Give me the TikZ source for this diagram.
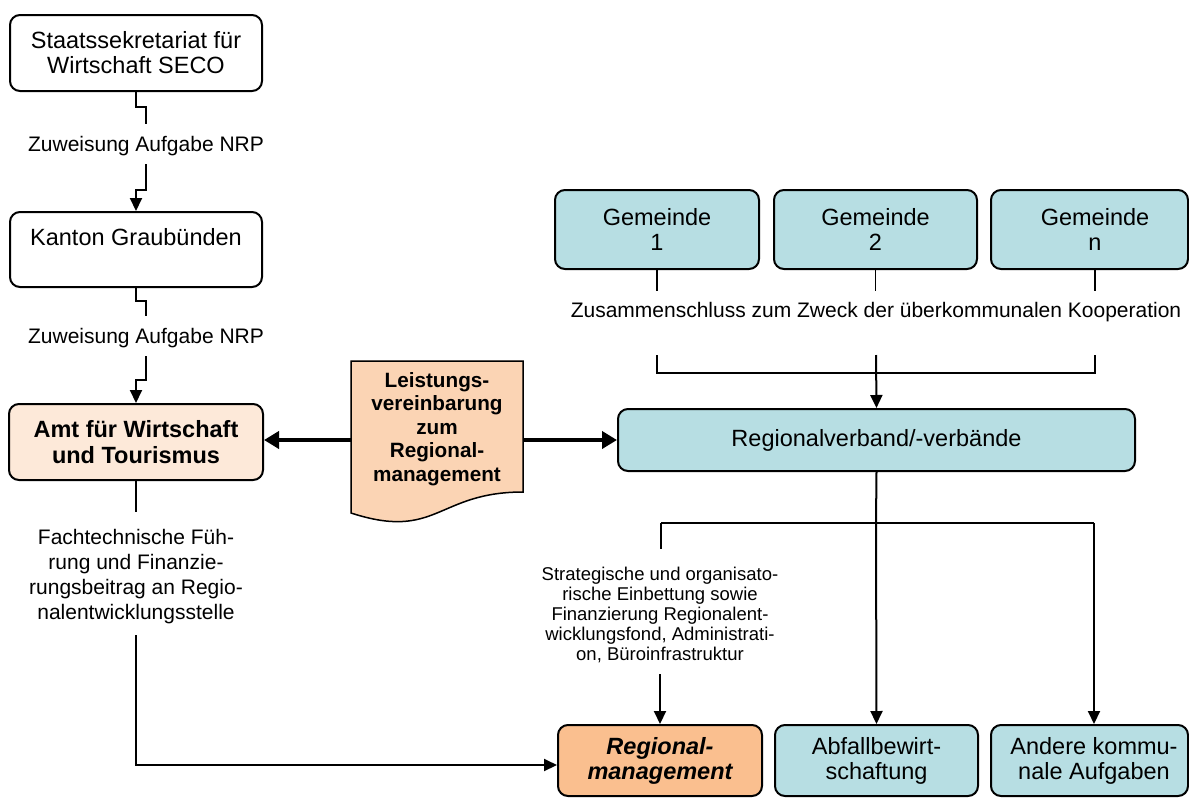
\documentclass[tikz,border=0pt]{standalone}
\usepackage{fontspec}
\setmainfont{Liberation Sans}
\usetikzlibrary{arrows.meta}
\definecolor{gemblue}{HTML}{B7DEE3}
\definecolor{amtrose}{HTML}{FDE9D9}
\definecolor{docpeach}{HTML}{FBD4B4}
\definecolor{rmorange}{HTML}{FABF8F}
\tikzset{
  box/.style={draw, line width=1pt, rounded corners=5pt, align=center, inner sep=2pt,
    font=\fontsize{11.75}{12.5}\selectfont},
  gem/.style={box, fill=gemblue, minimum height=39.5pt},
  task/.style={box, fill=gemblue, minimum height=35.5pt},
  lbl/.style={align=center, inner sep=0pt, font=\fontsize{10.5}{12.5}\selectfont},
  small/.style={lbl, font=\fontsize{9.25}{10}\selectfont},
  line/.style={line width=1pt},
  thinline/.style={line width=0.6pt},
  arr/.style={-{Triangle[length=6.5pt,width=6pt]}, line width=1pt},
  fat/.style={-{Triangle[length=7.5pt,width=8.5pt]}, line width=2pt}
}
\begin{document}
\begin{tikzpicture}[x=0.5pt, y=-0.5pt]
  \useasboundingbox (0,0) rectangle (1189,798);

  \node[box, minimum width=126pt, minimum height=38pt] (seco) at (136,53) {Staatssekretariat für\\Wirtschaft SECO};
  \node[box, minimum width=126pt, minimum height=37.5pt] (kanton) at (136,249.5) {Kanton Graubünden\\~};
  \node[box, fill=amtrose, minimum width=127pt, minimum height=38pt,
    font=\fontsize{11.75}{13.3}\selectfont\bfseries] (amt) at (136,442) {Amt für Wirtschaft\\und Tourismus};
  \node[lbl] (zw1) at (146,146) {Zuweisung Aufgabe NRP};
  \node[lbl] (zw2) at (146,338) {Zuweisung Aufgabe NRP};
  \node[lbl] (ft) at (136,577) {Fachtechnische Füh-\\rung und Finanzie-\\rungsbeitrag an Regio-\\nalentwicklungsstelle};

  \draw[docpeach, fill=docpeach] (351,361) -- (523,361) -- (523,492)
    .. controls (437,492) and (437,541) .. (351,513) -- cycle;
  \draw[line width=0.75pt] (351,361) -- (523,361) -- (523,492)
    .. controls (437,492) and (437,541) .. (351,513) -- cycle;
  \node[lbl, font=\fontsize{10.35}{11.75}\selectfont\bfseries] (lv) at (437,429)
    {Leistungs-\\vereinbarung\\zum\\Regional-\\management};
  \coordinate (lvw) at (351,440);
  \coordinate (lve) at (523,440);

  \node[gem, minimum width=102pt] (g1) at (657,229.5) {Gemeinde\\1};
  \node[gem, minimum width=101.5pt] (g2) at (875.5,229.5) {Gemeinde\\2};
  \node[gem, minimum width=98.5pt] (gn) at (1089.5,229.5) {\hspace*{5.5pt}Gemeinde\\\hspace*{5.5pt}n};
  \node[lbl] (zk) at (876,312) {Zusammenschluss zum Zweck der überkommunalen Kooperation};
  \node[box, fill=gemblue, minimum width=258.5pt, minimum height=31pt] (rv) at (876.5,440) {Regionalverband/-verbände};
  \node[small] (st) at (660,615) {Strategische und organisato-\\rische Einbettung sowie\\Finanzierung Regionalent-\\wicklungsfond, Administrati-\\on, Büroinfrastruktur};

  \node[box, fill=rmorange, minimum width=102pt, minimum height=35.5pt,
    font=\fontsize{11.75}{12.5}\selectfont\bfseries\itshape] (reg) at (660,760.5) {Regional-\\management};
  \node[task, minimum width=101.5pt] (abf) at (876.5,760.5) {Abfallbewirt-\\schaftung};
  \node[task, minimum width=98.5pt] (and) at (1089.5,760.5) {\hspace*{4.5pt}Andere kommu-\\\hspace*{4.5pt}nale Aufgaben};

  \coordinate (j1) at (657,355);
  \coordinate (j2) at (876,355);
  \coordinate (j3) at (1095,355);
  \coordinate (jn) at (876,373);
  \coordinate (sp) at (876,523);
  \coordinate (sl) at (661,523);
  \coordinate (sr) at (1094,523);
  \coordinate (fb) at (136,765);

  \draw[thinline, shorten >=6pt] (seco.south) -- ++(0,15) -| (zw1.north);
  \draw[arr, shorten <=4pt] (zw1.south) -- ++(0,34) -| (kanton.north);
  \draw[thinline, shorten >=6pt] (kanton.south) -- ++(0,13) -| (zw2.north);
  \draw[arr, shorten <=4pt] (zw2.south) -- ++(0,32) -| (amt.north);
  \draw[line, shorten >=8.8pt] (amt.south) -- (ft.north);
  \draw[arr, shorten <=5.3pt] (ft.south) -- (fb) -- (fb -| reg.west);

  \draw[fat] (lvw) -- (lvw -| amt.east);
  \draw[fat] (lve) -- (lve -| rv.west);

  \draw[line] (g1.south) -- ++(0,21);
  \draw[thinline] (g2.south) -- ++(0,21);
  \draw[line] ([xshift=2.75pt]gn.south) -- ++(0,21);
  \draw[thinline] (j1) |- (jn) -| (j3);
  \draw[arr] (j2) -- (rv.north);

  \draw[line] (rv.south) -- (sp);
  \draw[line] (sl) -- (sr);
  \draw[line, shorten >=9pt] (sl) -- (sl |- st.north);
  \draw[arr, shorten <=5.5pt] (st.south) -- (reg.north);
  \draw[arr] (sp) -- (abf.north);
  \draw[arr] (sr) -- (sr |- and.north);
\end{tikzpicture}
\end{document}
